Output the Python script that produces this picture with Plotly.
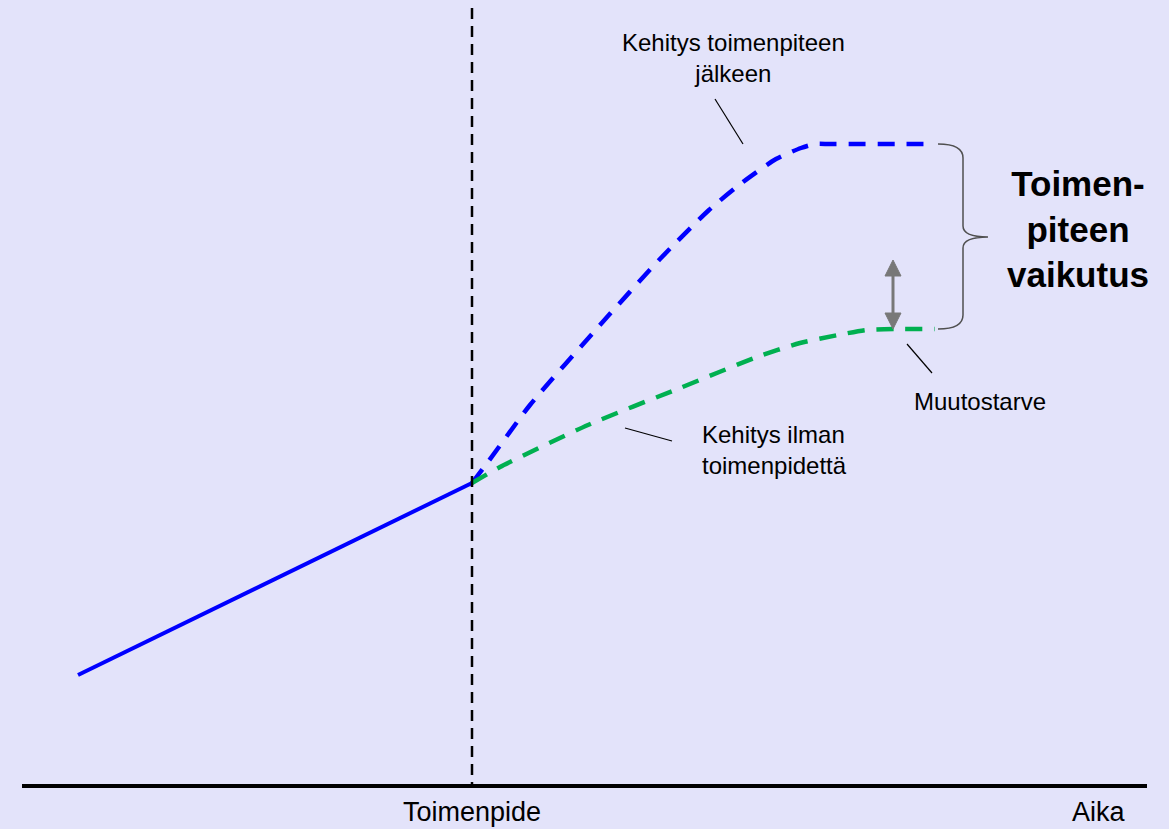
import plotly.graph_objects as go

# --- data (diagram coordinates: x = time, y = level, y axis points down) ---
before_x = [78, 472]
before_y = [675, 483]

after_x = [472, 488, 530, 600, 660, 709, 743, 776, 801, 815, 830, 935]
after_y = [483, 462, 405, 325, 259, 210, 182, 159, 148, 144, 144, 144]

without_x = [472, 500, 588, 680, 757, 800, 838, 866, 895, 935]
without_y = [483, 467, 425, 388, 357, 343, 335, 330, 329, 329]

intervention_x = 472
axis_y = 786
axis_x = [22, 1147]

BG = "#E3E3FA"
BLUE = "#0000FF"
GREEN = "#00B050"
GRAY = "#787878"
FONT = "Liberation Sans, Arial, sans-serif"

fig = go.Figure()

fig.add_trace(go.Scatter(x=before_x, y=before_y, mode="lines",
                         line=dict(color=BLUE, width=4), hoverinfo="skip"))
fig.add_trace(go.Scatter(x=after_x, y=after_y, mode="lines",
                         line=dict(color=BLUE, width=4.5, dash="17px,12px", shape="spline", smoothing=0.6),
                         hoverinfo="skip"))
fig.add_trace(go.Scatter(x=without_x, y=without_y, mode="lines",
                         line=dict(color=GREEN, width=4.5, dash="17px,12px", shape="spline", smoothing=0.6),
                         hoverinfo="skip"))

shapes = []
# vertical dashed line at intervention
shapes.append(dict(type="line", x0=intervention_x, x1=intervention_x, y0=8, y1=axis_y,
                   line=dict(color="black", width=2.5, dash="11px,7px")))
# time axis
shapes.append(dict(type="line", x0=axis_x[0], x1=axis_x[1], y0=axis_y, y1=axis_y,
                   line=dict(color="black", width=4)))
# leader lines
for (x0, y0, x1, y1) in [(715, 99, 743, 144), (625, 428, 672, 441), (907, 344, 932, 373)]:
    shapes.append(dict(type="line", x0=x0, y0=y0, x1=x1, y1=y1,
                       line=dict(color="black", width=1.2)))
# brace
shapes.append(dict(type="path",
                   path="M 938 144 Q 963 144 963 158 L 963 226 Q 963 237 988 237 "
                        "Q 963 237 963 248 L 963 315 Q 963 329 938 329",
                   line=dict(color="#505050", width=1.5)))
# double arrow
shapes.append(dict(type="line", x0=893, x1=893, y0=272, y1=317,
                   line=dict(color=GRAY, width=3)))
shapes.append(dict(type="path", path="M 893 260 L 901 276 L 885 276 Z",
                   fillcolor=GRAY, line=dict(color=GRAY, width=1)))
shapes.append(dict(type="path", path="M 893 329 L 901 313 L 885 313 Z",
                   fillcolor=GRAY, line=dict(color=GRAY, width=1)))

font_small = dict(family=FONT, size=24, color="black")
annotations = [
    dict(x=733, y=58, text="Kehitys toimenpiteen<br>jälkeen", showarrow=False,
         xanchor="center", yanchor="middle", align="center", font=font_small),
    dict(x=700, y=450, text="Kehitys ilman<br>toimenpidettä", showarrow=False,
         xanchor="left", yanchor="middle", align="left", font=font_small),
    dict(x=912, y=401, text="Muutostarve", showarrow=False,
         xanchor="left", yanchor="middle", align="left", font=font_small),
    dict(x=1078, y=229, text="<b>Toimen-<br>piteen<br>vaikutus</b>", showarrow=False,
         xanchor="center", yanchor="middle", align="center",
         font=dict(family=FONT, size=35, color="black")),
    dict(x=472, y=829, text="Toimenpide", showarrow=False,
         xanchor="center", yanchor="bottom",
         font=dict(family=FONT, size=27, color="black")),
    dict(x=1099, y=829, text="Aika", showarrow=False,
         xanchor="center", yanchor="bottom",
         font=dict(family=FONT, size=27, color="black")),
]

fig.update_layout(
    width=1169, height=829,
    margin=dict(l=0, r=0, t=0, b=0),
    paper_bgcolor=BG, plot_bgcolor=BG,
    showlegend=False,
    shapes=shapes,
    annotations=annotations,
    xaxis=dict(range=[0, 1169], visible=False, fixedrange=True),
    yaxis=dict(range=[829, 0], visible=False, fixedrange=True),
)

fig.write_html("out.html", config={"displayModeBar": False},
               post_script="document.body.style.margin='0';document.body.style.background='" + BG + "';")
